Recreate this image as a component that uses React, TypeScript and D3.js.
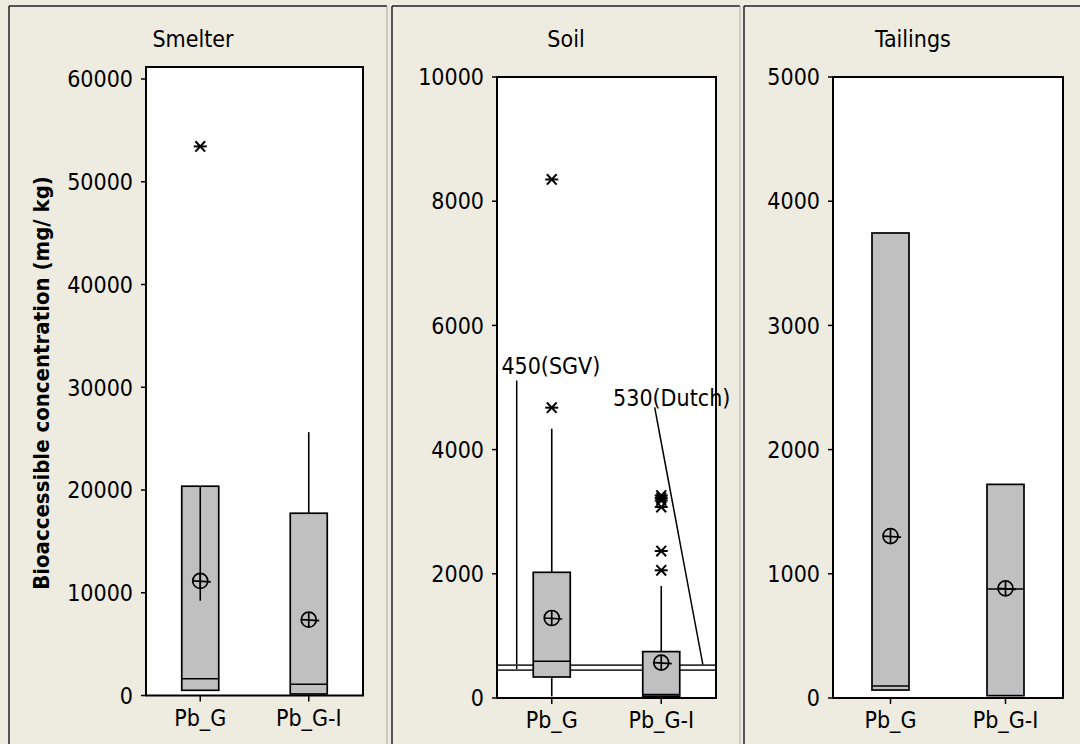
import React from "react";
import * as d3 from "d3";

const panelNames = ["Smelter", "Soil", "Tailings"];
const groups = ["Pb_G", "Pb_G-I"];
const yDomainMax = [61170, 10000, 5000];
const yTicks = [
  [0, 10000, 20000, 30000, 40000, 50000, 60000],
  [0, 2000, 4000, 6000, 8000, 10000],
  [0, 1000, 2000, 3000, 4000, 5000],
];
// per panel, per group
const q1 = [[506, 146], [338, 27], [64, 19]];
const medians = [[1636, 1090], [591, 55], [97, 878]];
const q3 = [[20370, 17740], [2024, 747], [3744, 1720]];
const means = [[11150, 7380], [1288, 570], [1304, 883]];
const whiskers: number[][][][] = [
  [[[9230, 20370]], [[17740, 25630]]],
  [[[2024, 4337], [27, 338]], [[747, 1803]]],
  [[], []],
];
const outliers = [
  [[53440], []],
  [[4675, 8350], [2056, 2367, 3075, 3180, 3220, 3260]],
  [[], []],
];
// Soil reference lines
const refValues = [450, 530];
const refLabels = ["450(SGV)", "530(Dutch)"];
const refLabelY = [5211, 4696];
const refLeaderFrom = [[0.09, 5114], [0.72, 4680]];
const refLeaderTo = [[0.09, 467], [0.94, 538]];
const refLabelX = [0.02, 0.53];

const yTitle = "Bioaccessible concentration (mg/ kg)";

const layouts = [
  { box: [9, 387], l: 146, r: 363, t: 67, b: 695.5 },
  { box: [392, 740], l: 497, r: 716, t: 77, b: 698 },
  { box: [744, 1082], l: 833, r: 1063, t: 77, b: 698 },
];

const FONT = "'DejaVu Sans Condensed', 'DejaVu Sans', sans-serif";
const BG = "#EEEBE1";
const BOXW = 37;

function Star({ x, y }: { x: number; y: number }) {
  const s = 6.5;
  return (
    <g stroke="#000" strokeWidth={2}>
      <line x1={x - s} y1={y} x2={x + s} y2={y} />
      <line x1={x - s * 0.75} y1={y - s * 0.8} x2={x + s * 0.75} y2={y + s * 0.8} />
      <line x1={x - s * 0.75} y1={y + s * 0.8} x2={x + s * 0.75} y2={y - s * 0.8} />
    </g>
  );
}

function MeanSym({ x, y }: { x: number; y: number }) {
  const r = 7.5;
  return (
    <g stroke="#000" strokeWidth={1.7} fill="none">
      <circle cx={x} cy={y} r={r} />
      <line x1={x} y1={y - r} x2={x} y2={y + r} />
      <line x1={x - r} y1={y} x2={x + r + 3} y2={y + 1} />
    </g>
  );
}

function Panel({ i }: { i: number }) {
  const L = layouts[i];
  const y = d3.scaleLinear().domain([0, yDomainMax[i]]).range([L.b, L.t]);
  const x = d3.scalePoint<string>().domain(groups).range([L.l, L.r]).padding(0.5);
  return (
    <g>
      <line x1={L.box[0]} y1={6} x2={L.box[1]} y2={6} stroke="#222" strokeWidth={1.5} />
      <line x1={L.box[0]} y1={6} x2={L.box[0]} y2={744} stroke="#222" strokeWidth={1.5} />
      <line x1={L.box[1]} y1={6} x2={L.box[1]} y2={744} stroke="#aaa" strokeWidth={1} />
      <text x={(L.box[0] + L.box[1]) / 2 - (i === 0 ? 5 : 0)} y={47} textAnchor="middle" fontSize={23} fontFamily={FONT}>
        {panelNames[i]}
      </text>
      <rect x={L.l} y={L.t} width={L.r - L.l} height={L.b - L.t} fill="#fff" />
      {/* y ticks */}
      {yTicks[i].map((t) => (
        <g key={t}>
          <line x1={L.l - 5} x2={L.l} y1={y(t)} y2={y(t)} stroke="#000" strokeWidth={1.5} />
          <text x={L.l - 13} y={y(t)} dy="0.36em" textAnchor="end" fontSize={23} fontFamily={FONT}>
            {t}
          </text>
        </g>
      ))}
      {/* x ticks */}
      {groups.map((g) => (
        <g key={g}>
          <line x1={x(g)} x2={x(g)} y1={L.b} y2={L.b + 6} stroke="#000" strokeWidth={1.5} />
          <text x={x(g)} y={L.b + 30} textAnchor="middle" fontSize={23} fontFamily={FONT}>
            {g}
          </text>
        </g>
      ))}
      {/* reference lines for soil */}
      {i === 1 &&
        refValues.map((v, k) => (
          <g key={k}>
            <line x1={L.l} x2={L.r} y1={y(v)} y2={y(v)} stroke="#333" strokeWidth={1.8} />
            <line
              x1={L.l + refLeaderFrom[k][0] * (L.r - L.l)}
              y1={y(refLeaderFrom[k][1])}
              x2={L.l + refLeaderTo[k][0] * (L.r - L.l)}
              y2={y(refLeaderTo[k][1])}
              stroke="#000"
              strokeWidth={1.5}
            />
            <text x={L.l + refLabelX[k] * (L.r - L.l)} y={y(refLabelY[k])} fontSize={23} fontFamily={FONT}>
              {refLabels[k]}
            </text>
          </g>
        ))}
      {groups.map((g, j) => {
        const cx = x(g) as number;
        return (
          <g key={g}>
            {whiskers[i][j].map((w, k) => (
              <line key={k} x1={cx} x2={cx} y1={y(w[0])} y2={y(w[1])} stroke="#000" strokeWidth={1.6} />
            ))}
            <rect
              x={cx - BOXW / 2}
              y={y(q3[i][j])}
              width={BOXW}
              height={y(q1[i][j]) - y(q3[i][j])}
              fill="#C0C0C0"
              stroke="#000"
              strokeWidth={1.7}
            />
            {i === 0 && j === 0 && (
              <line x1={cx} x2={cx} y1={y(q3[i][j])} y2={y(whiskers[i][j][0][0])} stroke="#000" strokeWidth={1.6} />
            )}
            <line x1={cx - BOXW / 2} x2={cx + BOXW / 2} y1={y(medians[i][j])} y2={y(medians[i][j])} stroke="#000" strokeWidth={1.6} />
            <MeanSym x={cx} y={y(means[i][j])} />
            {outliers[i][j].map((o, k) => (
              <Star key={k} x={cx} y={y(o)} />
            ))}
          </g>
        );
      })}
      <rect x={L.l} y={L.t} width={L.r - L.l} height={L.b - L.t} fill="none" stroke="#000" strokeWidth={2} />
    </g>
  );
}

export default function App() {
  return (
    <svg width={1080} height={744} style={{ position: "absolute", left: 0, top: 0 }}>
      <rect x={0} y={0} width={1080} height={744} fill={BG} />
      {[0, 1, 2].map((i) => (
        <Panel key={i} i={i} />
      ))}
      <text
        transform="translate(49,383) rotate(-90)"
        textAnchor="middle"
        fontSize={22}
        fontWeight="bold"
        fontFamily={FONT}
      >
        {yTitle}
      </text>
    </svg>
  );
}
